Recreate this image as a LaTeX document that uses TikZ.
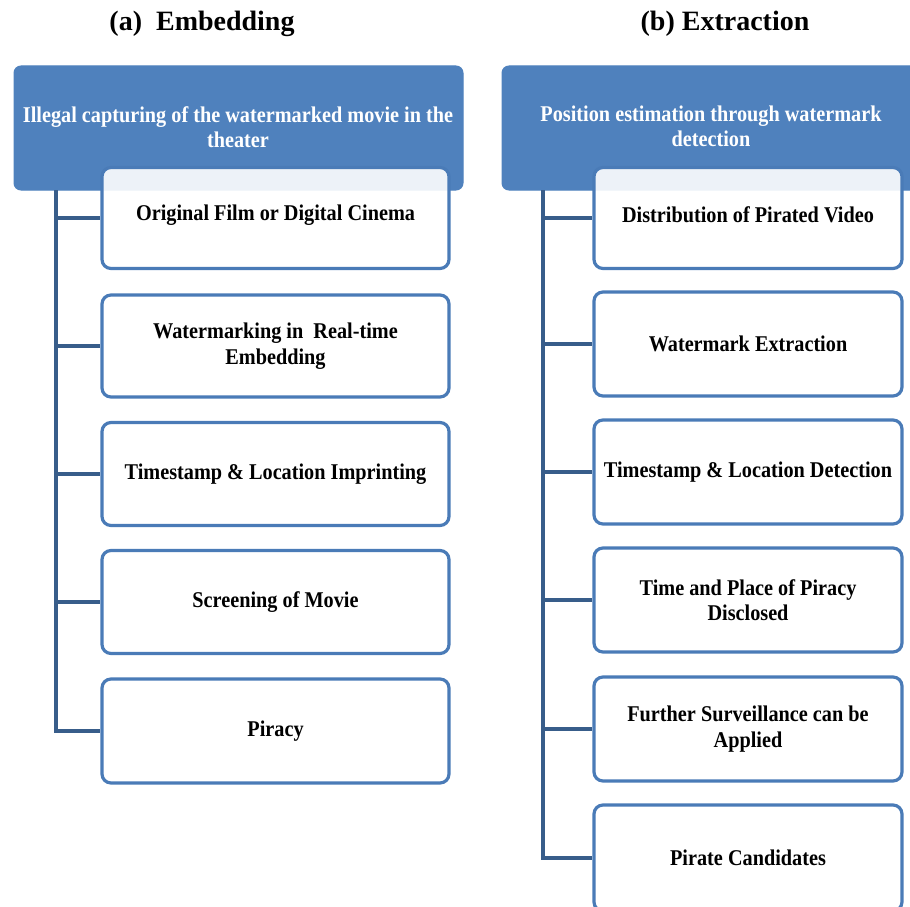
\documentclass[tikz,border=0pt]{standalone}
\usepackage{fontspec}
\setmainfont{Liberation Serif}[FakeStretch=0.9]
\newfontfamily\titlefont{Liberation Serif}
\definecolor{hdrblue}{HTML}{4F81BD}
\definecolor{boxblue}{HTML}{4A7BB7}
\definecolor{linkblue}{HTML}{385D8A}
\begin{document}
\begin{tikzpicture}[x=1pt,y=-1pt,
  hdr/.style={draw=hdrblue,fill=hdrblue,rounded corners=7pt,line width=1pt},
  hdrtext/.style={text=white,font=\bfseries\fontsize{22.5}{25}\selectfont,align=center,inner sep=0pt},
  stepbox/.style={draw=boxblue,line width=3.2pt,fill=white,fill opacity=0.9,text opacity=1,rounded corners=9pt,
     font=\bfseries\fontsize{22.5}{25.5}\selectfont,align=center,text=black},
  conn/.style={draw=linkblue,line width=3.4pt},
  ttl/.style={font=\titlefont\bfseries\fontsize{28}{31}\selectfont,inner sep=0pt}]
\useasboundingbox (0,0) rectangle (910,907);
\node[ttl] (ta) at (202,24) {(a)\ \ Embedding};
\node[ttl] (tb) at (725,24) {(b) Extraction};
% headers
\path[hdr] (14,66) rectangle (463,190);
\node[hdrtext] (hl) at (238,127) {Illegal capturing of the watermarked movie in the\\theater};
\path[hdr] (502,66) rectangle (922,190);
\node[hdrtext] (hr) at (711,126) {Position estimation through watermark\\detection};
% left boxes
\node[stepbox,minimum width=347pt,minimum height=101pt] (l1) at (275.5,218) {};
\node[font=\bfseries\fontsize{22.5}{25.5}\selectfont] at (275.5,215) {Original Film or Digital Cinema};
\node[stepbox,minimum width=347pt,minimum height=102pt] (l2) at (275.5,346) {Watermarking in\ \ Real-time\\Embedding};
\node[stepbox,minimum width=347pt,minimum height=103pt] (l3) at (275.5,474) {Timestamp \& Location Imprinting};
\node[stepbox,minimum width=347pt,minimum height=103pt] (l4) at (275.5,602) {Screening of Movie};
\node[stepbox,minimum width=347pt,minimum height=104pt] (l5) at (275.5,731) {Piracy};
% right boxes
\node[stepbox,minimum width=308pt,minimum height=101pt] (r1) at (748,218) {};
\node[font=\bfseries\fontsize{22.5}{25.5}\selectfont] at (748,215) {Distribution of Pirated Video};
\node[stepbox,minimum width=308pt,minimum height=104pt] (r2) at (748,344) {Watermark Extraction};
\node[stepbox,minimum width=308pt,minimum height=104pt] (r3) at (748,472) {Timestamp \& Location Detection};
\node[stepbox,minimum width=308pt,minimum height=104pt] (r4) at (748,600) {Time and Place of Piracy\\Disclosed};
\node[stepbox,minimum width=308pt,minimum height=104pt] (r5) at (748,729) {Further Surveillance can be\\Applied};
\node[stepbox,minimum width=308pt,minimum height=106pt] (r6) at (748,858) {Pirate Candidates};
% connectors
\coordinate (lt) at (56,190);
\coordinate (rt) at (543,190);
\draw[conn] (lt) |- (l5.west);
\foreach \n in {l1,l2,l3,l4}{\draw[conn] (lt |- \n.west) -- (\n.west);}
\draw[conn] (rt) |- (r6.west);
\foreach \n in {r1,r2,r3,r4,r5}{\draw[conn] (rt |- \n.west) -- (\n.west);}
\end{tikzpicture}
\end{document}
